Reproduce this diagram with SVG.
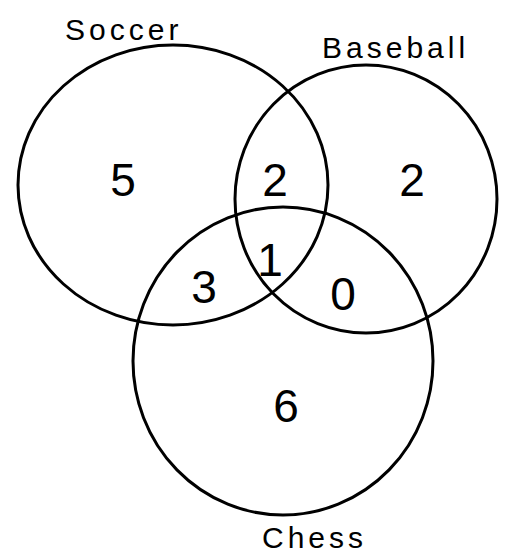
<svg xmlns="http://www.w3.org/2000/svg" width="509" height="554" viewBox="0 0 509 554">
<style>
.c{fill:none;stroke:#000;stroke-width:3}
.n{font-family:"Liberation Sans",sans-serif;font-size:46px;fill:#000;text-anchor:middle}
.l{font-family:"Liberation Sans",sans-serif;font-size:30px;fill:#000;letter-spacing:4px}
</style>
<rect width="509" height="554" fill="#fff"/>
<g id="soccer">
<ellipse class="c" cx="173" cy="185" rx="155" ry="140"/>
<text class="l" x="65" y="40">Soccer</text>
<text class="n" x="123" y="196">5</text>
</g>
<g id="baseball">
<ellipse class="c" cx="366" cy="199" rx="131" ry="134"/>
<text class="l" x="322" y="58">Baseball</text>
<text class="n" x="412" y="196">2</text>
</g>
<g id="chess">
<ellipse class="c" cx="283" cy="361" rx="150" ry="154"/>
<text class="l" x="262" y="548">Chess</text>
<text class="n" x="286" y="422">6</text>
</g>
<g id="regions">
<text class="n" x="275" y="196">2</text>
<text class="n" x="270" y="276" font-size="40">1</text>
<text class="n" x="204" y="303">3</text>
<text class="n" x="343" y="310">0</text>
</g>
</svg>
